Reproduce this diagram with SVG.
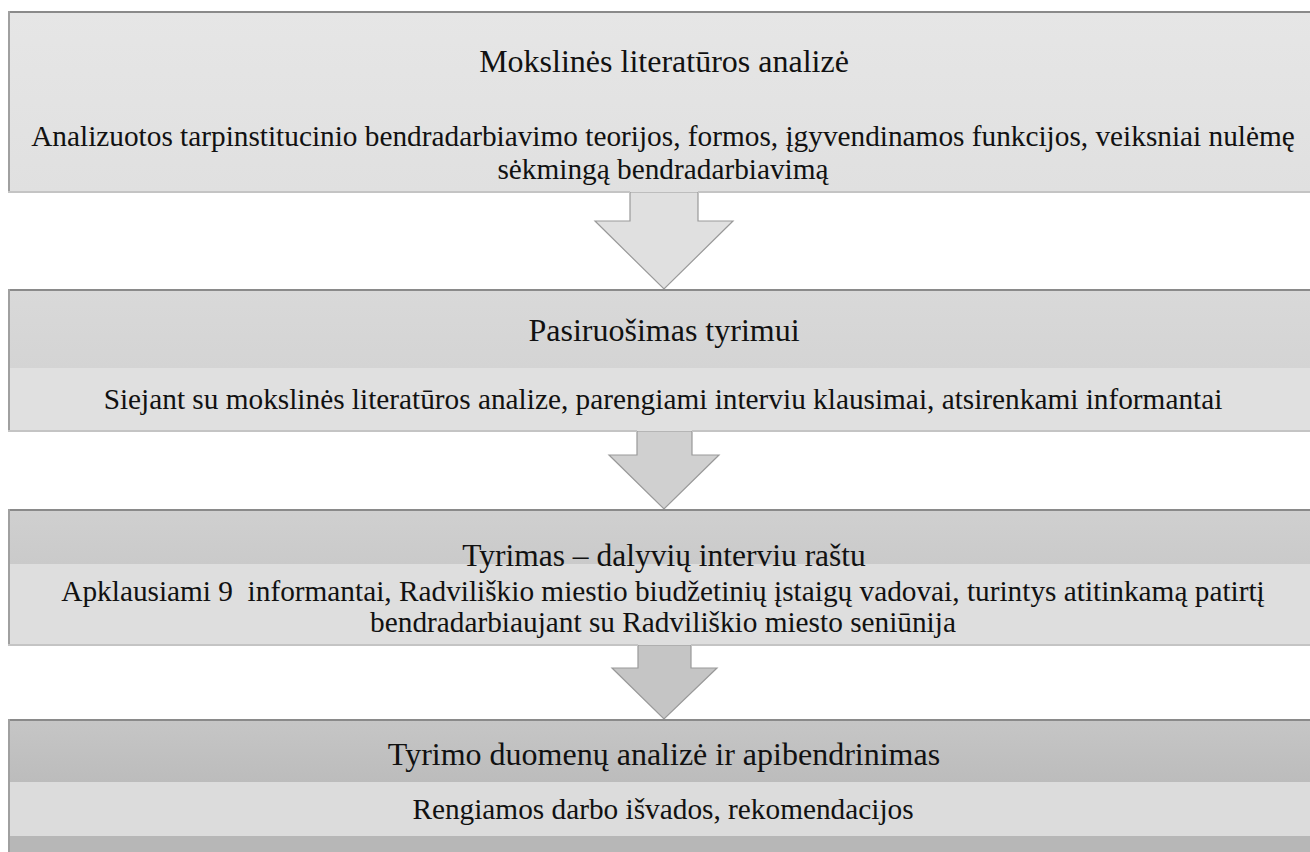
<svg xmlns="http://www.w3.org/2000/svg" width="1310" height="852" viewBox="0 0 1310 852">
<defs>
<linearGradient id="g1" x1="0" y1="0" x2="0" y2="1"><stop offset="0" stop-color="#e6e6e6"/><stop offset="1" stop-color="#e0e0e0"/></linearGradient>
<linearGradient id="g2" x1="0" y1="0" x2="0" y2="1"><stop offset="0" stop-color="#d9d9d9"/><stop offset="1" stop-color="#d4d4d4"/></linearGradient>
<linearGradient id="g3" x1="0" y1="0" x2="0" y2="1"><stop offset="0" stop-color="#d0d0d0"/><stop offset="1" stop-color="#cacaca"/></linearGradient>
<linearGradient id="g4" x1="0" y1="0" x2="0" y2="1"><stop offset="0" stop-color="#c6c6c6"/><stop offset="1" stop-color="#bcbcbc"/></linearGradient>
</defs>
<style>
text{font-family:"Liberation Serif","Times New Roman",serif;fill:#111;text-anchor:middle}
.t{font-size:32px}
.b{font-size:29.3px;white-space:pre}
.edge{stroke:#8a8a8a;stroke-width:2}
.side{stroke:#a0a0a0;stroke-width:2}
.bot{stroke:#c4c4c4;stroke-width:2}
.arrow{stroke:#999;stroke-width:1.2;stroke-linejoin:miter}
</style>
<rect width="1310" height="852" fill="#fff"/>
<g id="connectors">
<polygon class="arrow" fill="#e0e0e0" points="630,192 698,192 698,221 733,221 664,289 595,221 630,221"/>
<polygon class="arrow" fill="#d0d0d0" points="637,431 692,431 692,455 719,455 664,509 609,455 637,455"/>
<polygon class="arrow" fill="#c5c5c5" points="638,645 691,645 691,668 717,668 664,719 612,668 638,668"/>
</g>
<g id="node1">
<rect x="8" y="11" width="1320" height="181" fill="url(#g1)"/>
<line class="edge" x1="8" y1="12" x2="1310" y2="12"/>
<line class="side" x1="9" y1="11" x2="9" y2="192"/>
<line class="bot" x1="8" y1="192" x2="630" y2="192"/>
<line class="bot" x1="698" y1="192" x2="1310" y2="192"/>
<text class="t" x="664" y="72">Mokslinės literatūros analizė</text>
<text class="b" x="663" y="146">Analizuotos tarpinstitucinio bendradarbiavimo teorijos, formos, įgyvendinamos funkcijos, veiksniai nulėmę</text>
<text class="b" x="663" y="179">sėkmingą bendradarbiavimą</text>
</g>
<g id="node2">
<rect x="8" y="289" width="1320" height="79" fill="url(#g2)"/>
<rect x="8" y="368" width="1320" height="63" fill="#e0e0e0"/>
<line class="edge" x1="8" y1="290" x2="1310" y2="290"/>
<line class="side" x1="9" y1="289" x2="9" y2="431"/>
<line class="bot" x1="8" y1="431" x2="637" y2="431"/>
<line class="bot" x1="692" y1="431" x2="1310" y2="431"/>
<text class="t" x="664" y="341">Pasiruošimas tyrimui</text>
<text class="b" x="663" y="409">Siejant su mokslinės literatūros analize, parengiami interviu klausimai, atsirenkami informantai</text>
</g>
<g id="node3">
<rect x="8" y="509" width="1320" height="55" fill="url(#g3)"/>
<rect x="8" y="564" width="1320" height="81" fill="#dedede"/>
<line class="edge" x1="8" y1="510" x2="1310" y2="510"/>
<line class="side" x1="9" y1="509" x2="9" y2="645"/>
<line class="bot" x1="8" y1="645" x2="638" y2="645"/>
<line class="bot" x1="691" y1="645" x2="1310" y2="645"/>
<text class="t" x="664" y="566" style="font-size:31.5px">Tyrimas – dalyvių interviu raštu</text>
<text class="b" x="663" y="601">Apklausiami 9  informantai, Radviliškio miestio biudžetinių įstaigų vadovai, turintys atitinkamą patirtį</text>
<text class="b" x="663" y="632">bendradarbiaujant su Radviliškio miesto seniūnija</text>
</g>
<g id="node4">
<rect x="8" y="719" width="1320" height="63" fill="url(#g4)"/>
<rect x="8" y="782" width="1320" height="54" fill="#dcdcdc"/>
<rect x="8" y="836" width="1320" height="20" fill="#b7b7b7"/>
<line class="edge" x1="8" y1="720" x2="1310" y2="720"/>
<line class="side" x1="9" y1="719" x2="9" y2="852"/>
<text class="t" x="664" y="765">Tyrimo duomenų analizė ir apibendrinimas</text>
<text class="b" x="663" y="819">Rengiamos darbo išvados, rekomendacijos</text>
</g>
</svg>
